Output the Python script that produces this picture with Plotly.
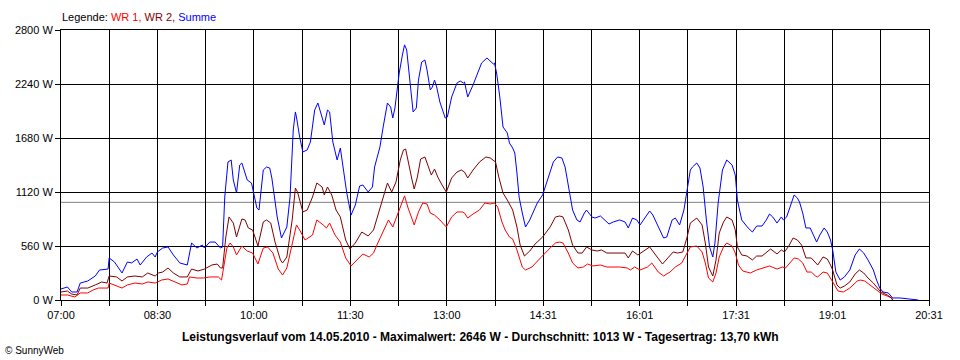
import plotly.graph_objects as go

# ---- data (time of day, watts) ----
summe_t = ["07:00","07:06","07:10","07:15","07:18","07:25","07:32","07:36","07:44","07:45","07:50","07:57","08:02","08:06","08:11","08:14","08:20","08:25","08:28","08:30","08:35","08:40","08:45","08:51","08:58","09:00","09:02","09:07","09:12","09:14","09:19","09:24","09:29","09:31","09:33","09:36","09:39","09:41","09:44","09:47","09:49","09:54","09:58","10:03","10:05","10:09","10:12","10:15","10:17","10:22","10:26","10:31","10:34","10:37","10:39","10:40","10:43","10:46","10:50","10:53","10:57","11:00","11:04","11:06","11:09","11:11","11:14","11:18","11:21","11:23","11:27","11:31","11:35","11:39","11:42","11:47","11:51","11:53","11:58","12:01","12:05","12:08","12:10","12:12","12:14","12:16","12:19","12:21","12:23","12:25","12:27","12:29","12:32","12:34","12:37","12:40","12:42","12:45","12:47","12:49","12:51","12:54","12:59","13:01","13:05","13:10","13:13","13:16","13:17","13:20","13:25","13:29","13:33","13:38","13:41","13:44","13:45","13:47","13:50","13:53","13:57","13:59","14:02","14:04","14:06","14:08","14:11","14:14","14:18","14:25","14:30","14:35","14:40","14:44","14:48","14:51","14:55","14:58","15:02","15:05","15:09","15:11","15:16","15:19","15:24","15:28","15:32","15:36","15:42","15:47","15:50","15:54","15:58","16:01","16:06","16:10","16:13","16:18","16:23","16:26","16:31","16:34","16:38","16:42","16:45","16:48","16:50","16:54","16:57","17:00","17:03","17:06","17:09","17:11","17:14","17:18","17:20","17:22","17:27","17:30","17:32","17:36","17:42","17:46","17:50","17:55","17:59","18:02","18:05","18:09","18:13","18:15","18:18","18:21","18:25","18:28","18:30","18:33","18:36","18:40","18:43","18:46","18:49","18:53","18:56","18:59","19:01","19:04","19:08","19:12","19:17","19:22","19:26","19:30","19:34","19:39","19:42","19:45","19:48","19:53","19:57","20:04","20:13","20:21"]
summe_w = [114,135,83,83,176,197,249,311,321,436,394,280,394,384,425,363,446,487,446,498,539,550,467,384,363,487,591,539,570,539,601,601,539,550,1068,1431,1452,1244,1110,1400,1421,1244,1213,954,933,1348,1379,1369,1265,861,643,757,1068,1763,1950,1898,1690,1535,1556,1638,1970,2043,1898,1815,1970,1950,1638,1452,1576,1421,1110,881,985,1182,1193,1120,1172,1379,1587,1794,2043,2001,1887,1991,2157,2354,2541,2646,2593,2385,2147,1950,1991,2281,2468,2489,2385,2178,2209,2281,2209,2053,1887,1898,2105,2250,2271,2250,2261,2105,2230,2354,2458,2510,2478,2447,2458,2354,2105,1794,1732,1628,1576,1524,1317,1068,902,757,830,1006,1089,1265,1431,1483,1473,1379,1141,933,830,809,902,933,861,850,871,830,788,809,830,809,747,850,830,778,861,923,881,757,643,653,830,850,778,933,1141,1348,1379,1421,1369,1172,830,550,446,591,1006,1348,1400,1452,1400,1296,1037,830,747,705,767,767,830,892,861,798,861,830,861,964,1089,1058,1016,902,747,747,674,601,674,747,705,622,519,290,207,239,311,467,529,487,415,311,207,124,83,73,21,21,10,0]

wr2_t = ["07:00","07:06","07:10","07:15","07:18","07:25","07:32","07:38","07:43","07:45","07:52","07:57","08:02","08:09","08:16","08:21","08:28","08:31","08:35","08:40","08:45","08:51","08:58","09:02","09:08","09:14","09:21","09:26","09:29","09:31","09:34","09:37","09:41","09:44","09:49","09:52","09:55","09:59","10:04","10:09","10:12","10:16","10:20","10:25","10:27","10:31","10:36","10:39","10:41","10:46","10:50","10:55","10:59","11:04","11:06","11:09","11:13","11:17","11:21","11:26","11:30","11:35","11:41","11:47","11:52","11:56","12:01","12:05","12:09","12:13","12:17","12:20","12:22","12:24","12:28","12:30","12:33","12:36","12:40","12:42","12:46","12:49","12:52","12:56","13:00","13:05","13:10","13:14","13:17","13:20","13:25","13:31","13:37","13:41","13:44","13:46","13:49","13:53","13:57","14:00","14:02","14:06","14:09","14:13","14:18","14:23","14:30","14:37","14:42","14:46","14:49","14:54","14:58","15:03","15:07","15:11","15:16","15:21","15:25","15:30","15:36","15:42","15:47","15:50","15:54","15:59","16:06","16:10","16:17","16:22","16:27","16:32","16:36","16:41","16:45","16:48","16:54","16:59","17:02","17:05","17:09","17:12","17:15","17:19","17:22","17:27","17:30","17:32","17:36","17:41","17:46","17:50","17:55","18:00","18:03","18:09","18:13","18:16","18:20","18:24","18:28","18:32","18:36","18:41","18:45","18:47","18:52","18:56","18:59","19:01","19:05","19:08","19:12","19:17","19:22","19:26","19:30","19:34","19:39","19:42","19:46","19:52","19:56","19:57"]
wr2_w = [83,93,62,52,124,124,156,187,176,249,239,197,239,249,239,280,249,280,290,332,280,239,239,321,301,321,363,373,332,332,653,861,798,653,840,830,747,726,560,809,830,798,601,415,384,446,830,1161,1120,913,933,1068,1213,1172,1089,1172,1089,933,861,622,529,591,705,664,726,881,1068,1213,1120,1224,1452,1556,1566,1452,1244,1151,1276,1462,1483,1421,1296,1358,1276,1193,1120,1265,1327,1348,1327,1265,1348,1431,1483,1473,1452,1431,1276,1110,1037,964,933,757,570,456,508,581,653,757,861,871,861,726,570,487,487,550,519,508,519,487,487,487,487,436,508,467,519,550,446,373,436,498,487,498,653,798,850,778,591,342,249,415,695,809,861,830,726,550,467,456,415,456,456,508,529,477,519,498,560,643,622,570,436,436,384,363,446,425,363,311,156,124,145,187,270,311,280,228,176,135,83,52,21,0]

wr1_t = ["07:00","07:06","07:13","07:18","07:25","07:30","07:35","07:44","07:45","07:50","07:57","08:02","08:09","08:16","08:21","08:28","08:34","08:40","08:47","08:53","08:58","09:00","09:07","09:13","09:19","09:27","09:30","09:32","09:35","09:38","09:41","09:44","09:49","09:54","09:59","10:04","10:09","10:13","10:18","10:23","10:27","10:31","10:36","10:40","10:43","10:48","10:55","10:59","11:05","11:08","11:11","11:16","11:21","11:26","11:31","11:37","11:42","11:48","11:52","11:56","12:01","12:06","12:10","12:14","12:19","12:21","12:24","12:28","12:30","12:34","12:38","12:42","12:45","12:49","12:54","13:00","13:05","13:10","13:15","13:17","13:20","13:25","13:31","13:36","13:41","13:45","13:48","13:52","13:55","13:59","14:02","14:06","14:11","14:14","14:20","14:27","14:30","14:37","14:42","14:46","14:49","14:54","14:58","15:03","15:08","15:12","15:17","15:24","15:30","15:36","15:42","15:49","15:52","15:56","16:01","16:08","16:12","16:18","16:23","16:29","16:34","16:40","16:45","16:48","16:54","16:59","17:02","17:05","17:09","17:12","17:15","17:19","17:22","17:27","17:30","17:33","17:37","17:44","17:50","17:56","18:02","18:09","18:14","18:17","18:21","18:25","18:29","18:33","18:37","18:41","18:45","18:47","18:52","18:56","19:00","19:03","19:06","19:11","19:17","19:24","19:27","19:31","19:38","19:42","19:47","19:52","19:56","19:57"]
wr1_w = [52,52,31,73,73,104,124,124,176,156,124,156,176,166,187,176,207,218,187,156,166,239,228,228,239,239,207,332,539,591,550,467,560,508,487,373,539,550,487,321,259,332,591,778,726,622,674,830,778,747,798,674,601,436,353,415,477,446,487,591,705,830,757,881,1016,1080,964,830,778,913,1006,996,902,881,830,757,861,913,913,902,850,892,933,1006,996,1006,964,809,726,653,633,519,342,311,342,425,456,539,591,601,591,487,384,332,342,373,353,363,342,342,342,332,311,342,311,342,384,290,249,290,342,384,487,550,560,498,384,228,187,280,446,550,591,560,487,363,301,280,311,332,353,321,342,332,384,436,425,384,290,290,249,239,290,280,207,156,93,83,124,197,207,197,135,104,62,41,21,0]

average_w = 1013
y_ticks = [0, 560, 1120, 1680, 2240, 2800]
x_tick_labels = ["07:00", "", "08:30", "", "10:00", "", "11:30", "", "13:00", "",
                 "14:31", "", "16:01", "", "17:31", "", "19:01", "", "20:31"]
title_text = ("Leistungsverlauf vom 14.05.2010 - Maximalwert: 2646 W - "
              "Durchschnitt: 1013 W - Tagesertrag: 13,70 kWh")


def to_min(ts):
    out = []
    for s in ts:
        h, m = s.split(":")
        out.append(int(h) * 60 + int(m))
    return out


t_start, t_end = 7 * 60, 20 * 60 + 31
n_int = len(x_tick_labels) - 1
x_tick_vals = [t_start + i * (t_end - t_start) / n_int for i in range(n_int + 1)]

FONT = "Liberation Sans, Arial, sans-serif"
PLOT_W = 960 - 61 - 31

fig = go.Figure()
fig.add_trace(go.Scatter(x=to_min(wr1_t), y=wr1_w, mode="lines", name="WR 1",
                         line=dict(color="#ff0000", width=1)))
fig.add_trace(go.Scatter(x=to_min(wr2_t), y=wr2_w, mode="lines", name="WR 2",
                         line=dict(color="#800000", width=1)))
fig.add_trace(go.Scatter(x=to_min(summe_t), y=summe_w, mode="lines", name="Summe",
                         line=dict(color="#0000ff", width=1)))

fig.add_shape(type="line", xref="paper", x0=0, x1=1, yref="y", y0=average_w, y1=average_w,
              line=dict(color="#808080", width=1), layer="below")

fig.update_layout(
    width=960, height=360,
    margin=dict(l=61, r=31, t=30, b=60),
    paper_bgcolor="white", plot_bgcolor="white",
    showlegend=False,
    font=dict(family=FONT, size=11, color="black"),
    xaxis=dict(range=[t_start, t_end], tickmode="array", tickvals=x_tick_vals,
               ticktext=x_tick_labels, showgrid=True, gridcolor="black", gridwidth=1,
               showline=True, linecolor="black", linewidth=1, mirror=True,
               ticks="outside", ticklen=5, tickcolor="black", zeroline=False,
               tickfont=dict(family=FONT, size=11, color="black")),
    yaxis=dict(range=[0, 2800], tickmode="array", tickvals=y_ticks,
               ticktext=[f"{v} W" for v in y_ticks], showgrid=True, gridcolor="black",
               gridwidth=1, showline=True, linecolor="black", linewidth=1, mirror=True,
               ticks="outside", ticklen=5, tickcolor="black", zeroline=False,
               tickfont=dict(family=FONT, size=11, color="black")),
    annotations=[
        dict(xref="paper", yref="paper", x=-1 / PLOT_W, y=1.0, yshift=13, xanchor="left",
             yanchor="middle", showarrow=False,
             text=("Legende: <span style='color:#ff0000'>WR 1,</span> "
                   "<span style='color:#800000'>WR 2,</span> "
                   "<span style='color:#0000ff'>Summe</span>"),
             font=dict(family=FONT, size=11, color="black")),
        dict(xref="paper", yref="paper", x=(480 - 61) / PLOT_W, y=0, yshift=-37,
             xanchor="center", yanchor="middle", showarrow=False,
             text="<b>" + title_text + "</b>",
             font=dict(family=FONT, size=12, color="black")),
        dict(xref="paper", yref="paper", x=-61 / PLOT_W, xshift=3, y=0, yshift=-50,
             xanchor="left", yanchor="middle", showarrow=False, text="© SunnyWeb",
             font=dict(family=FONT, size=10, color="black")),
    ],
)

fig.write_html("out.html", config={"displayModeBar": False},
               post_script="document.body.style.margin='0';")
